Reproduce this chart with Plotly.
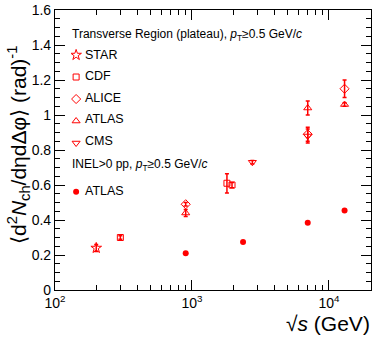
import plotly.graph_objects as go

RED = "#ff0000"
FONT = "Liberation Sans, Arial, sans-serif"

# transverse region (plateau), pT >= 0.5 GeV/c
star_x = [200]
star_y = [0.24]
star_err = [0.02]

cdf_x = [300, 1800, 1960]
cdf_y = [0.30, 0.61, 0.60]
cdf_err = [0.01, 0.055, 0.015]

alice_x = [900, 7000, 13000]
alice_y = [0.49, 0.89, 1.15]
alice_err = [0.01, 0.04, 0.05]

atlas_x = [900, 7000, 13000]
atlas_y = [0.44, 1.04, 1.06]
atlas_err = [0.02, 0.04, 0.01]

cms_x = [2760, 7000]
cms_y = [0.73, 0.88]
cms_err = [0.01, 0.04]

# INEL>0 pp, pT >= 0.5 GeV/c
inel_x = [900, 2360, 7000, 13000]
inel_y = [0.21, 0.275, 0.385, 0.455]

x_ticks = [100, 1000, 10000]
x_ticktext = ["10<sup>2</sup>", "10<sup>3</sup>", "10<sup>4</sup>"]
y_ticks = [0, 0.2, 0.4, 0.6, 0.8, 1.0, 1.2, 1.4, 1.6]
y_ticktext = ["0", "0.2", "0.4", "0.6", "0.8", "1", "1.2", "1.4", "1.6"]

labels_tr = ["STAR", "CDF", "ALICE", "ATLAS", "CMS"]
labels_inel = ["ATLAS"]

TR = "Transverse Region (plateau), <i>p</i><sub>T</sub>≥0.5 GeV/<i>c</i>"
IN = "INEL>0 pp, <i>p</i><sub>T</sub>≥0.5 GeV/<i>c</i>"


def open_trace(x, y, err, grp, symbol, size=7):
    # legend shows only the marker; the label is drawn as an annotation (ROOT-like spacing)
    return go.Scatter(
        x=x, y=y, mode="markers", name="", legendgroup=grp, legend="legend",
        marker=dict(symbol=symbol, size=size, color=RED, line=dict(color=RED, width=1)),
        error_y=dict(type="data", array=err, color=RED, thickness=1.5, width=2),
    )


fig = go.Figure()
fig.add_trace(open_trace(star_x, star_y, star_err, "STAR", "star-open", 8))
fig.add_trace(open_trace(cdf_x, cdf_y, cdf_err, "CDF", "square-open", 6))
fig.add_trace(open_trace(alice_x, alice_y, alice_err, "ALICE", "diamond-open", 7))
fig.add_trace(open_trace(atlas_x, atlas_y, atlas_err, "ATLAS", "triangle-up-open", 7))
fig.add_trace(open_trace(cms_x, cms_y, cms_err, "CMS", "triangle-down-open", 7))
fig.add_trace(go.Scatter(
    x=inel_x, y=inel_y, mode="markers", name="", legend="legend2",
    marker=dict(symbol="circle", size=6, color=RED),
))

axis_common = dict(
    showline=True, linecolor="black", linewidth=1.2, mirror="ticks",
    ticks="inside", tickcolor="black", showgrid=False, zeroline=False,
    tickfont=dict(family=FONT, size=14, color="black"), automargin=False,
)

leg_common = dict(xanchor="left", yanchor="top", bgcolor="rgba(0,0,0,0)",
                  font=dict(family=FONT, size=12), itemwidth=30, indentation=-15,
                  tracegroupgap=3)

fig.update_layout(
    width=382, height=338,
    margin=dict(l=55, r=11, t=10, b=48, autoexpand=False),
    paper_bgcolor="white", plot_bgcolor="white",
    font=dict(family=FONT, size=12, color="black"),
    xaxis=dict(type="log", range=[2, 4.307], tickvals=x_ticks, ticktext=x_ticktext,
               ticklen=10, minor=dict(ticks="inside", ticklen=5, dtick="D1", tickcolor="black"),
               **axis_common),
    yaxis=dict(range=[0, 1.6], tickvals=y_ticks, ticktext=y_ticktext, ticklen=10,
               minor=dict(ticks="inside", ticklen=5, dtick=0.05, tickcolor="black"),
               **axis_common),
    legend=dict(x=0.051, y=0.891, **leg_common),
    legend2=dict(x=0.051, y=0.403, **leg_common),
    showlegend=True,
)

# legend labels and headers
for i, lab in enumerate(labels_tr):
    fig.add_annotation(xref="paper", yref="paper", x=(83 - 55) / 316,
                       y=(290 - (55 + 21.4 * i)) / 280, xanchor="left", yanchor="middle",
                       text=lab, showarrow=False, font=dict(family=FONT, size=12.5))
fig.add_annotation(xref="paper", yref="paper", x=(83 - 55) / 316, y=(290 - 191) / 280,
                   xanchor="left", yanchor="middle", text=labels_inel[0], showarrow=False,
                   font=dict(family=FONT, size=12.5))
fig.add_annotation(xref="paper", yref="paper", x=0.047, y=(290 - 35) / 280, xanchor="left",
                   yanchor="middle", text=TR, showarrow=False, font=dict(family=FONT, size=12))
fig.add_annotation(xref="paper", yref="paper", x=0.047, y=(290 - 165) / 280, xanchor="left",
                   yanchor="middle", text=IN, showarrow=False, font=dict(family=FONT, size=12))

# axis titles (ROOT style: right / top aligned)
fig.add_annotation(xref="paper", yref="paper", x=1.004, y=-0.118, xanchor="right", yanchor="middle",
                   text="√<i>s</i> (GeV)", showarrow=False, font=dict(family=FONT, size=21))
fig.add_annotation(xref="paper", yref="paper", x=-0.114, y=0.518, xanchor="center", yanchor="middle",
                   textangle=-90, showarrow=False, font=dict(family=FONT, size=21),
                   text="⟨d<sup>2</sup><i>N</i><sub>ch</sub>/dηdΔφ⟩ (rad)<sup>-1</sup>")

fig.write_html("out.html", config={"displayModeBar": False},
               post_script="document.body.style.margin='0';")
